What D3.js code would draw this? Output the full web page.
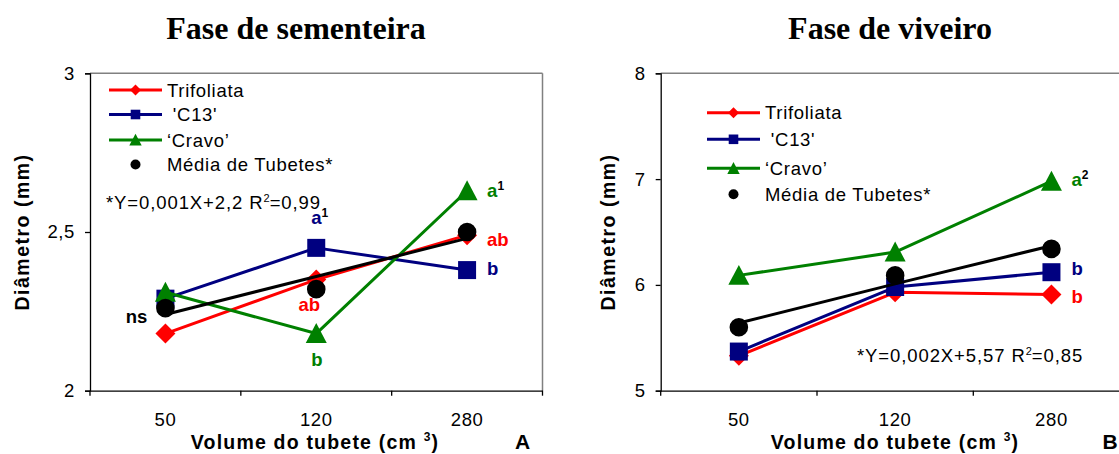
<!DOCTYPE html>
<html>
<head>
<meta charset="utf-8">
<script src="https://cdn.jsdelivr.net/npm/d3@7"></script>
<style>
  body { margin: 0; background: #fff; }
  svg { display: block; }
  text { font-family: "Liberation Sans", Arial, sans-serif; }
  text.title { font-family: "Liberation Serif", "Times New Roman", serif; }
</style>
</head>
<body>
<svg id="chart" width="1119" height="454"></svg>
<script>
// ---------- DATA ----------
const categories = ["50", "120", "280"];
const seriesNames = ["Trifoliata", " 'C13'", "\u2018Cravo\u2019", "Média de Tubetes*"];

// Panel A – Fase de sementeira
const trifoliataA = [2.18, 2.35, 2.49];
const c13A        = [2.29, 2.45, 2.38];
const cravoA      = [2.31, 2.18, 2.63];
const mediaA      = [2.26, 2.32, 2.50];
const trendA      = [2.24, 2.36, 2.48];
const yTicksA     = [2, 2.5, 3];
const equationA   = ["*Y=0,001X+2,2 R", "2", "=0,99"];
const lettersA = [
  { text: "ns", sup: "",  cat: "50",  at: 2.235, series: "media", side: "left" },
  { text: "a",  sup: "1", cat: "120", at: 2.547, series: "c13",   side: "center" },
  { text: "ab", sup: "",  cat: "120", at: 2.273, series: "trif",  side: "centerL" },
  { text: "b",  sup: "",  cat: "120", at: 2.097, series: "cravo", side: "center" },
  { text: "a",  sup: "1", cat: "280", at: 2.632, series: "cravo", side: "right" },
  { text: "ab", sup: "",  cat: "280", at: 2.475, series: "trif",  side: "right" },
  { text: "b",  sup: "",  cat: "280", at: 2.386, series: "c13",   side: "right" }
];

// Panel B – Fase de viveiro
const trifoliataB = [5.33, 5.93, 5.91];
const c13B        = [5.37, 5.98, 6.12];
const cravoB      = [6.09, 6.31, 6.98];
const mediaB      = [5.60, 6.09, 6.34];
const trendB      = [5.64, 6.01, 6.37];
const yTicksB     = [5, 6, 7, 8];
const equationB   = ["*Y=0,002X+5,57 R", "2", "=0,85"];
const lettersB = [
  { text: "a", sup: "2", cat: "280", at: 6.998, series: "cravo", side: "right" },
  { text: "b", sup: "",  cat: "280", at: 6.157, series: "c13",   side: "right" },
  { text: "b", sup: "",  cat: "280", at: 5.888, series: "trif",  side: "right" }
];

// ---------- STYLE ----------
const colors = { trif: "#FF0000", c13: "#000080", cravo: "#008000", media: "#000000" };
const fmt = v => String(v).replace(".", ",");

const svg = d3.select("#chart");

function markerPath(type, s) {
  const p = d3.path();
  if (type === "diamond") {
    p.moveTo(0, -s); p.lineTo(s, 0); p.lineTo(0, s); p.lineTo(-s, 0); p.closePath();
  } else if (type === "square") {
    p.rect(-s, -s, 2 * s, 2 * s);
  } else if (type === "triangle") {
    p.moveTo(0, -s); p.lineTo(s, s * 0.9); p.lineTo(-s, s * 0.9); p.closePath();
  } else {
    p.arc(0, 0, s, 0, 2 * Math.PI);
  }
  return p.toString();
}

function drawPanel(cfg) {
  const g = svg.append("g");
  const x = d3.scaleBand().domain(categories).range([cfg.left, cfg.right]).padding(0);
  const y = d3.scaleLinear().domain(cfg.yDomain).range([390.7, 73.3]);
  const cx = c => x(c) + x.bandwidth() / 2;

  // frame (top & right) in gray
  g.append("line").attr("x1", cfg.left).attr("x2", cfg.right)
    .attr("y1", y(cfg.yDomain[1])).attr("y2", y(cfg.yDomain[1]))
    .attr("stroke", "#808080").attr("stroke-width", 1.5);
  g.append("line").attr("x1", cfg.right).attr("x2", cfg.right)
    .attr("y1", y(cfg.yDomain[1])).attr("y2", y(cfg.yDomain[0]))
    .attr("stroke", "#808080").attr("stroke-width", 1.5);

  // y axis
  const ya = g.append("g").attr("transform", `translate(${cfg.left},0)`)
    .call(d3.axisLeft(y).tickValues(cfg.yTicks).tickSize(5).tickPadding(10).tickFormat(fmt));
  ya.attr("font-family", null);
  ya.select(".domain").attr("stroke", "#000").attr("stroke-width", 1.3);
  ya.selectAll(".tick line").attr("stroke", "#000").attr("stroke-width", 1.3);
  ya.selectAll(".tick text").attr("font-size", "18.5px").attr("fill", "#000")
    .style("letter-spacing", "0.6px");

  // x axis (labels at centers, ticks between categories)
  const xa = g.append("g").attr("transform", `translate(0,${y(cfg.yDomain[0])})`)
    .call(d3.axisBottom(x).tickSize(0).tickPadding(22).tickSizeOuter(0));
  xa.attr("font-family", null);
  xa.select(".domain").attr("stroke", "#000").attr("stroke-width", 1.3);
  xa.selectAll(".tick text").attr("font-size", "18.5px").attr("fill", "#000")
    .style("letter-spacing", "0.6px");
  const edges = categories.map(c => x(c)).concat([x.range()[1]]);
  g.selectAll(".xt").data(edges).enter().append("line")
    .attr("x1", d => d).attr("x2", d => d)
    .attr("y1", y(cfg.yDomain[0])).attr("y2", y(cfg.yDomain[0]) + 5)
    .attr("stroke", "#000").attr("stroke-width", 1.3);

  // series lines
  const line = d3.line().x((d, i) => cx(categories[i])).y(d => y(d));
  const series = [
    { key: "trif",  vals: cfg.trif,  m: "diamond",  s: 10 },
    { key: "c13",   vals: cfg.c13,   m: "square",   s: 9 },
    { key: "cravo", vals: cfg.cravo, m: "triangle", s: 10.5 }
  ];
  series.forEach(sr => {
    g.append("path").attr("d", line(sr.vals)).attr("fill", "none")
      .attr("stroke", colors[sr.key]).attr("stroke-width", 3).attr("stroke-linejoin", "round");
    g.selectAll(null).data(sr.vals).enter().append("path")
      .attr("d", markerPath(sr.m, sr.s))
      .attr("transform", (d, i) => `translate(${cx(categories[i])},${y(d)})`)
      .attr("fill", colors[sr.key]);
  });
  // mean markers
  g.selectAll(null).data(cfg.media).enter().append("path")
    .attr("d", markerPath("circle", 9.3))
    .attr("transform", (d, i) => `translate(${cx(categories[i])},${y(d)})`)
    .attr("fill", "#000");
  // trend line
  g.append("path").attr("d", line(cfg.trend)).attr("fill", "none")
    .attr("stroke", "#000").attr("stroke-width", 3);

  // significance letters
  cfg.letters.forEach(L => {
    const px = cx(L.cat);
    let tx = px, anchor = "start";
    if (L.side === "left") { tx = px - 18; anchor = "end"; }
    else if (L.side === "right") { tx = px + 20; anchor = "start"; }
    else if (L.side === "center") { tx = px - 5; anchor = "start"; }
    else if (L.side === "centerL") { tx = px - 7; anchor = "middle"; }
    const t = g.append("text").attr("x", tx).attr("y", y(L.at) + 6.5)
      .attr("text-anchor", anchor).attr("font-size", "18.5px").attr("font-weight", "bold")
      .attr("fill", colors[L.series]).text(L.text);
    if (L.sup) {
      t.append("tspan").attr("dy", -7).attr("font-size", "12px").attr("fill", "#000")
        .attr("font-weight", "bold").text(L.sup);
    }
  });

  // legend
  const lg = g.append("g");
  const lt = [
    { key: "trif",  m: "diamond",  s: 5.5, name: seriesNames[0], line: true },
    { key: "c13",   m: "square",   s: 4.8, name: seriesNames[1], line: true },
    { key: "cravo", m: "triangle", s: 6.2, name: seriesNames[2], line: true },
    { key: "media", m: "circle",   s: 5,   name: seriesNames[3], line: false }
  ];
  lt.forEach((it, i) => {
    const ly = cfg.legendY[i];
    if (it.line) {
      lg.append("line").attr("x1", cfg.legendX).attr("x2", cfg.legendX + 53)
        .attr("y1", ly).attr("y2", ly).attr("stroke", colors[it.key]).attr("stroke-width", 3);
    }
    lg.append("path").attr("d", markerPath(it.m, it.s))
      .attr("transform", `translate(${cfg.legendX + 26.5},${ly})`).attr("fill", colors[it.key]);
    lg.append("text").attr("x", cfg.legendX + 58).attr("y", ly + 6.5)
      .attr("font-size", "18.5px").attr("fill", "#000").style("letter-spacing", "0.7px")
      .style("white-space", "pre").attr("xml:space", "preserve").text(it.name);
  });

  // equation
  const eq = g.append("text").attr("x", cfg.eqX).attr("y", cfg.eqY)
    .attr("font-size", "18.5px").attr("fill", "#000").style("letter-spacing", "0.9px");
  eq.append("tspan").text(cfg.equation[0]);
  eq.append("tspan").attr("dy", -7).attr("font-size", "11px").style("letter-spacing", "0px").text(cfg.equation[1]);
  eq.append("tspan").attr("dy", 7).text(cfg.equation[2]);

  // axis titles
  const xt = g.append("text").attr("x", cfg.xTitleX).attr("y", 449)
    .attr("text-anchor", "middle").attr("font-size", "19.5px").attr("font-weight", "bold")
    .attr("fill", "#000").style("letter-spacing", "1.2px");
  xt.append("tspan").text("Volume do tubete (cm ");
  xt.append("tspan").attr("dy", -8).attr("font-size", "12px").text("3");
  xt.append("tspan").attr("dy", 8).text(")");

  g.append("text").attr("transform", `translate(${cfg.yTitleX},232) rotate(-90)`)
    .attr("text-anchor", "middle").attr("font-size", "19.5px").attr("font-weight", "bold")
    .attr("fill", "#000").style("letter-spacing", "1.5px").text("Diâmetro (mm)");

  // panel letter
  g.append("text").attr("x", cfg.letterX).attr("y", 449).attr("text-anchor", "middle")
    .attr("font-size", "21px").attr("font-weight", "bold").attr("fill", "#000").text(cfg.panel);

  // title
  g.append("text").attr("class", "title").attr("x", cfg.titleX).attr("y", 39).attr("text-anchor", "middle")
    .attr("font-size", "32px").attr("font-weight", "bold").attr("fill", "#000").text(cfg.title);
}

drawPanel({
  left: 90, right: 542.5, yDomain: [2, 3], yTicks: yTicksA,
  trif: trifoliataA, c13: c13A, cravo: cravoA, media: mediaA, trend: trendA,
  letters: lettersA, legendX: 109, legendY: [90, 114.5, 140, 164.5],
  equation: equationA, eqX: 106, eqY: 209,
  xTitleX: 315, yTitleX: 29, letterX: 522.5, panel: "A",
  titleX: 296, title: "Fase de sementeira"
});
drawPanel({
  left: 660.7, right: 1129.6, yDomain: [5, 8], yTicks: yTicksB,
  trif: trifoliataB, c13: c13B, cravo: cravoB, media: mediaB, trend: trendB,
  letters: lettersB, legendX: 707, legendY: [112.7, 139.3, 168.3, 194.3],
  equation: equationB, eqX: 857, eqY: 362,
  xTitleX: 895, yTitleX: 615, letterX: 1110, panel: "B",
  titleX: 890, title: "Fase de viveiro"
});
</script>
</body>
</html>
